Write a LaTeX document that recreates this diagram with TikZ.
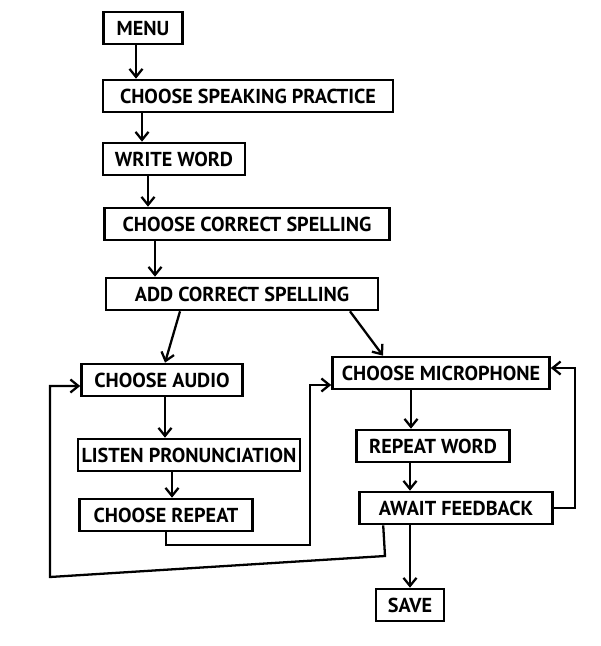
\documentclass[tikz,border=0pt]{standalone}
\usepackage{fontspec}
\setmainfont{PT Sans}
\usetikzlibrary{arrows.meta}

\begin{document}
\begin{tikzpicture}[
		x=0.02cm, y=-0.02cm
		,box/.style={draw, line width=1.5pt, rectangle, minimum height=0.64cm, inner xsep=2pt, font=\bfseries\fontsize{11.5}{13}\selectfont}
		,arr/.style={line width=1.3pt, -{Straight Barb[length=1.6mm, width=2.6mm]}}
	]
		\useasboundingbox (0,0) rectangle (600,646);
		% main column
		\node [box, minimum width=1.58cm] (menu) at (143,28) {MENU};
		\node [box, minimum width=5.8cm] (csp) at (248,96) {CHOOSE SPEAKING PRACTICE};
		\node [box, minimum width=2.84cm] (ww) at (174,159) {WRITE WORD};
		\node [box, minimum width=5.7cm] (ccs) at (247,224) {CHOOSE CORRECT SPELLING};
		\node [box, minimum width=5.44cm] (acs) at (242,294) {ADD CORRECT SPELLING};
		% audio branch
		\node [box, minimum width=3.22cm] (ca) at (162,380) {CHOOSE AUDIO};
		\node [box, minimum width=4.36cm] (lp) at (189,455) {LISTEN PRONUNCIATION};
		\node [box, minimum width=3.46cm] (cr) at (166,515) {CHOOSE REPEAT};
		% microphone branch
		\node [box, minimum width=4.34cm] (cm) at (441,373) {CHOOSE MICROPHONE};
		\node [box, minimum width=3.06cm] (rw) at (433,446) {REPEAT WORD};
		\node [box, minimum width=3.86cm] (af) at (456,508) {AWAIT FEEDBACK};
		\node [box, minimum width=1.36cm] (save) at (410,605) {SAVE};

		\draw [arr] ([xshift=-0.14cm]menu.south) -- ([xshift=-0.14cm]menu.south |- csp.north);
		\draw [arr] ([xshift=-2.12cm]csp.south) -- ([xshift=-2.12cm]csp.south |- ww.north);
		\draw [arr] ([xshift=-0.52cm]ww.south) -- ([xshift=-0.52cm]ww.south |- ccs.north);
		\draw [arr] ([xshift=-1.84cm]ccs.south) -- ([xshift=-1.84cm]ccs.south |- acs.north);
		\draw [arr] ([xshift=-1.24cm]acs.south) -- ([xshift=0.06cm]ca.north);
		\draw [arr] ([xshift=2.16cm]acs.south) -- ([xshift=-1.16cm]cm.north);

		\draw [arr] ([xshift=0.06cm]ca.south) -- ([xshift=0.06cm]ca.south |- lp.north);
		\draw [arr] ([xshift=-0.34cm]lp.south) -- ([xshift=-0.34cm]lp.south |- cr.north);
		\draw [arr] (cr.south) |- (310,545) |- ([yshift=-0.24cm]cm.west);

		\draw [arr] ([xshift=-0.6cm]cm.south) -- ([xshift=-0.6cm]cm.south |- rw.north);
		\draw [arr] ([xshift=-0.46cm]rw.south) -- ([xshift=-0.46cm]rw.south |- af.north);
		\draw [arr] (af.east) -- (575,508) |- ([yshift=0.1cm]cm.east);
		\draw [arr] ([xshift=25*0.02cm]af.south west) -- (385,556) -- (50,577) |- ([yshift=-0.12cm]ca.west);
		\draw [arr] (save.north |- af.south) -- (save.north);
	\end{tikzpicture}
\end{document}
